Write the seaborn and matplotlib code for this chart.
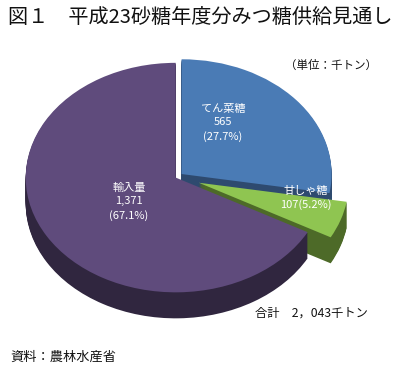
import matplotlib
matplotlib.use("Agg")
import matplotlib.pyplot as plt
import seaborn as sns
import numpy as np

# ---- data ----
categories = ["てん菜糖", "甘しゃ糖", "輸入量"]
values = [565, 107, 1371]
shares = [27.7, 5.2, 67.1]
value_labels = ["565", "107", "1,371"]
total_label = "合計　2，043千トン"
title = "図１　平成23砂糖年度分みつ糖供給見通し"
unit = "（単位：千トン）"
source = "資料：農林水産省"

sns.set_theme(style="white")
plt.rcParams["font.family"] = ["Noto Sans CJK JP", "DejaVu Sans"]

top_colors = ["#4a7bb5", "#8fc551", "#5f4b7c"]
side_colors = ["#2e4a6f", "#4d6a28", "#30263f"]
explode = [6, 23, 1.5]   # px

W, H = 400, 373
fig = plt.figure(figsize=(W / 100, H / 100), dpi=100)
ax = fig.add_axes([0, 0, 1, 1])

ry = 0.765         # vertical squash of the pie (tilt)
R = 150            # radius in px
cx, cy_img = 177, 177
cy = (H - cy_img) / ry
depth = 26         # px

# side (depth) layers
for k in np.arange(depth, 0, -1):
    ax.pie(values, colors=side_colors, startangle=90, counterclock=False,
           explode=explode, radius=R, center=(cx, cy - k / ry),
           wedgeprops=dict(linewidth=0), frame=False)
# top face
ax.pie(values, colors=top_colors, startangle=90, counterclock=False,
       explode=explode, radius=R, center=(cx, cy),
       wedgeprops=dict(linewidth=0), frame=False)

ax.set_aspect("auto")
ax.set_xlim(0, W)
ax.set_ylim(0, H / ry)
ax.axis("off")

def ftext(x, y, s, **kw):
    fig.text(x / W, 1 - y / H, s, **kw)

ftext(8, 17, title, fontsize=14.5, ha="left", va="center", color="#111111")
ftext(331, 65, unit, fontsize=8.3, ha="center", va="center", color="#111111")
ftext(223, 123, f"{categories[0]}\n{value_labels[0]}\n({shares[0]}%)",
      fontsize=8, ha="center", va="center", color="white", linespacing=1.4)
ftext(306, 198, f"{categories[1]}\n{value_labels[1]}({shares[1]}%)",
      fontsize=8, ha="center", va="center", color="white", linespacing=1.4)
ftext(129, 202, f"{categories[2]}\n{value_labels[2]}\n({shares[2]}%)",
      fontsize=8, ha="center", va="center", color="white", linespacing=1.4)
ftext(311, 313, total_label, fontsize=8.8, ha="center", va="center", color="#111111")
ftext(10, 357, source, fontsize=9.5, ha="left", va="center", color="#111111")

fig.savefig("out.png", dpi=100, facecolor="white")
